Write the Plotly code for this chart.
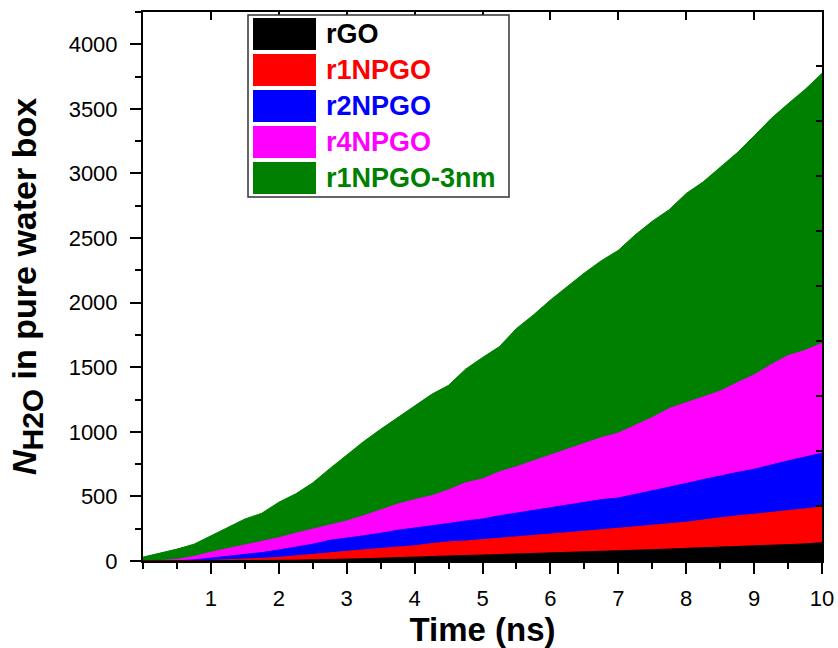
import plotly.graph_objects as go

# ---------------- data ----------------
time_ns = [0, 0.25, 0.5, 0.75, 1.0, 1.25, 1.5, 1.75, 2.0, 2.25, 2.5, 2.75, 3.0, 3.25, 3.5, 3.75,
           4.0, 4.25, 4.5, 4.75, 5.0, 5.25, 5.5, 5.75, 6.0, 6.25, 6.5, 6.75, 7.0, 7.25, 7.5, 7.75,
           8.0, 8.25, 8.5, 8.75, 9.0, 9.25, 9.5, 9.75, 10.0]

rGO = [0, 0, 0, 0, 0, 1, 2, 3, 5, 6, 8, 11, 15, 18, 22, 27,
       32, 35, 40, 43, 46, 50, 53, 56, 60, 64, 68, 72, 76, 80, 86, 92,
       98, 103, 108, 112, 116, 120, 125, 132, 142]

r1NPGO = [0, 0, 0, 2, 5, 10, 14, 20, 28, 38, 52, 63, 75, 88, 97, 108,
          118, 135, 148, 155, 165, 180, 190, 200, 210, 220, 230, 242, 253, 265, 275, 288,
          300, 318, 335, 350, 362, 375, 388, 400, 418]

r2NPGO = [0, 0, 2, 8, 22, 35, 50, 65, 85, 105, 130, 160, 175, 195, 215, 238,
          255, 270, 290, 310, 325, 350, 370, 390, 410, 432, 455, 475, 488, 515, 545, 570,
          600, 630, 660, 685, 710, 745, 775, 805, 835]

r4NPGO = [0, 3, 12, 35, 68, 95, 126, 148, 180, 215, 245, 280, 310, 350, 395, 440,
          475, 505, 550, 605, 635, 690, 730, 775, 825, 870, 915, 955, 990, 1050, 1110, 1180,
          1225, 1265, 1315, 1380, 1440, 1520, 1590, 1630, 1685]

r1NPGO_3nm = [30, 60, 92, 130, 195, 262, 325, 370, 455, 520, 605, 715, 820, 925, 1020, 1110,
              1195, 1290, 1360, 1485, 1575, 1660, 1800, 1905, 2020, 2125, 2230, 2325, 2405, 2525, 2630, 2720,
              2845, 2935, 3050, 3160, 3290, 3425, 3540, 3650, 3775]

series_names = ["rGO", "r1NPGO", "r2NPGO", "r4NPGO", "r1NPGO-3nm"]
series_values = [rGO, r1NPGO, r2NPGO, r4NPGO, r1NPGO_3nm]
series_colors = ["#000000", "#FF0000", "#0000FF", "#FF00FF", "#008000"]

x_ticks = [1, 2, 3, 4, 5, 6, 7, 8, 9, 10]
y_ticks = [0, 500, 1000, 1500, 2000, 2500, 3000, 3500, 4000]

FONT = "Liberation Sans, Arial, sans-serif"
W, H = 838, 648
ML, MR, MT, MB = 143, 16, 12, 87
PW, PH = W - ML - MR, H - MT - MB

fig = go.Figure()

# draw back-to-front: green first, black last
for name, vals, col in reversed(list(zip(series_names, series_values, series_colors))):
    fig.add_trace(go.Scatter(x=time_ns, y=vals, mode="lines", name=name,
                             line=dict(color=col, width=1), fill="tozeroy",
                             fillcolor=col, showlegend=False, hoverinfo="skip"))

# dummy trace for the mirrored (top/right) axes
fig.add_trace(go.Scatter(x=[None], y=[None], xaxis="x2", yaxis="y2",
                         showlegend=False, hoverinfo="skip"))

# ---------------- custom legend (paper coordinates from pixels) ----------------
def px(xp):
    return (xp - ML) / PW

def py(yp):
    return (H - MB - yp) / PH

shapes = [dict(type="rect", xref="paper", yref="paper",
               x0=px(248), x1=px(509), y0=py(197), y1=py(15),
               line=dict(color="#333333", width=1.5), fillcolor="white", layer="above")]
annotations = []
row_top = 18
for i, (name, col) in enumerate(zip(series_names, series_colors)):
    t0 = row_top + 36 * i
    shapes.append(dict(type="rect", xref="paper", yref="paper",
                       x0=px(253), x1=px(316), y0=py(t0 + 32), y1=py(t0),
                       line=dict(width=0), fillcolor=col, layer="above"))
    annotations.append(dict(xref="paper", yref="paper", x=px(324), y=py(t0 + 16),
                            xanchor="left", yanchor="middle", showarrow=False,
                            text="<b>%s</b>" % name,
                            font=dict(family=FONT, size=27, color=col)))

fig.update_layout(
    width=W, height=H,
    margin=dict(l=ML, r=MR, t=MT, b=MB, autoexpand=False),
    paper_bgcolor="white", plot_bgcolor="white",
    showlegend=False,
    shapes=shapes, annotations=annotations,
    xaxis=dict(range=[0, 10], tickvals=x_ticks, ticks="outside", ticklen=11, tickwidth=2,
               tickcolor="black", showline=True, linewidth=2, linecolor="black",
               showgrid=False, zeroline=False, ticklabelstandoff=6, automargin=False,
               minor=dict(dtick=0.5, tick0=0, ticks="outside", ticklen=6, tickwidth=2, tickcolor="black"),
               tickfont=dict(family=FONT, size=22, color="black"),
               title=dict(text="<b>Time (ns)</b>", font=dict(family=FONT, size=33, color="black"),
                          standoff=6)),
    yaxis=dict(range=[0, 4250], tickvals=y_ticks, ticks="outside", ticklen=11, tickwidth=2,
               tickcolor="black", showline=True, linewidth=2, linecolor="black",
               showgrid=False, zeroline=False, ticklabelstandoff=8, automargin=False,
               minor=dict(dtick=250, tick0=0, ticks="outside", ticklen=6, tickwidth=2, tickcolor="black"),
               tickfont=dict(family=FONT, size=22, color="black"),
               title=dict(text="<b><i>N</i><sub><span style='font-size:30px'>H2O</span></sub> in pure water box</b>",
                          font=dict(family=FONT, size=34, color="black"), standoff=22)),
    xaxis2=dict(overlaying="x", side="top", anchor="y", range=[0, 10], tickvals=[1, 2, 3, 4, 5, 6, 7, 8, 9],
                ticks="inside", ticklen=8, tickwidth=2, tickcolor="black", showticklabels=False,
                showline=True, linewidth=2, linecolor="black", showgrid=False, zeroline=False,
                automargin=False),
    yaxis2=dict(overlaying="y", side="right", anchor="x", range=[0, PH / 55.0],
                tickvals=[1, 2, 3, 4, 5, 6, 7, 8, 9],
                ticks="inside", ticklen=6, tickwidth=2, tickcolor="black", showticklabels=False,
                showline=True, linewidth=2, linecolor="black", showgrid=False, zeroline=False,
                automargin=False),
)

fig.write_html("out.html")
